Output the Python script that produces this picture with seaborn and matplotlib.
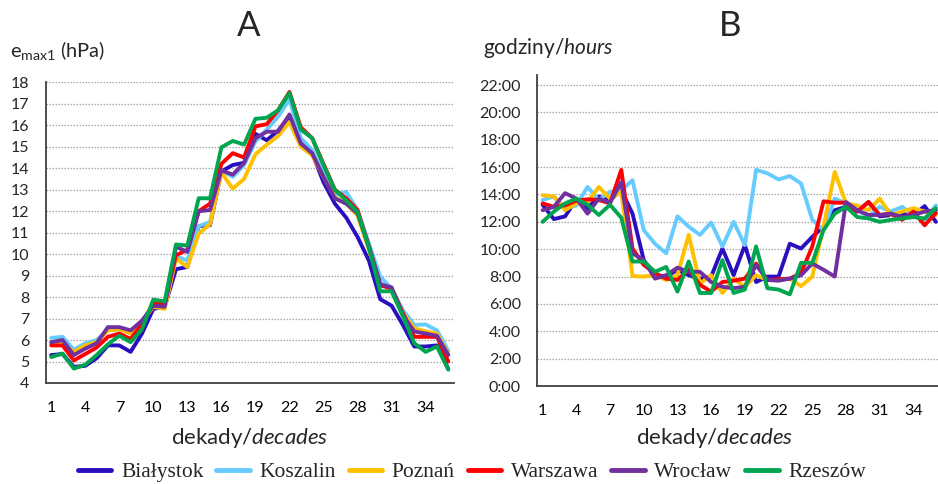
import numpy as np
import pandas as pd
import matplotlib
matplotlib.use("Agg")
import matplotlib.pyplot as plt
from matplotlib.ticker import FixedLocator, FuncFormatter
import seaborn as sns

decades = list(range(1, 37))
stations = ["Białystok", "Koszalin", "Poznań", "Warszawa", "Wrocław", "Rzeszów"]
colors = ["#2A0FC0", "#66CCFF", "#FFC000", "#FF0000", "#7030A0", "#00A550"]

# Panel A: e_max1 (hPa)
emax_bialystok = [5.3, 5.35, 4.75, 4.8, 5.15, 5.75, 5.75, 5.45, 6.3, 7.45, 7.55, 9.3, 9.4, 11.3, 11.35, 13.85, 14.15, 14.25,
                  15.6, 15.3, 15.75, 16.4, 15.3, 14.7, 13.35, 12.35, 11.7, 10.8, 9.7, 7.9, 7.6, 6.7, 5.7, 5.7, 5.75, 4.65]
emax_koszalin = [6.1, 6.15, 5.55, 5.85, 6.0, 6.45, 6.5, 6.35, 6.9, 7.6, 7.5, 9.9, 9.7, 11.3, 11.5, 13.9, 13.6, 14.15,
                 15.25, 15.8, 16.4, 17.2, 15.4, 14.85, 13.75, 12.75, 12.9, 12.05, 10.5, 8.95, 8.4, 7.4, 6.7, 6.73, 6.45, 5.5]
emax_poznan = [5.85, 5.85, 5.45, 5.75, 5.9, 6.45, 6.5, 6.3, 6.85, 7.55, 7.45, 9.8, 9.4, 10.95, 11.4, 13.8, 13.05, 13.5,
               14.65, 15.1, 15.5, 16.15, 15.0, 14.6, 13.6, 12.65, 12.35, 11.8, 10.2, 8.6, 8.4, 7.25, 6.55, 6.4, 6.3, 5.35]
emax_warszawa = [5.75, 5.75, 5.05, 5.35, 5.65, 6.15, 6.3, 6.05, 6.75, 7.7, 7.67, 9.95, 10.2, 12.0, 12.35, 14.2, 14.7, 14.5,
                 15.95, 16.05, 16.7, 17.55, 15.9, 15.4, 14.2, 13.0, 12.6, 12.05, 10.35, 8.55, 8.4, 7.25, 6.15, 6.15, 6.15, 5.0]
emax_wroclaw = [5.9, 6.0, 5.3, 5.6, 5.85, 6.6, 6.6, 6.45, 6.9, 7.6, 7.55, 10.35, 10.1, 12.0, 12.05, 13.9, 13.7, 14.25,
                15.4, 15.7, 15.7, 16.5, 15.15, 14.7, 13.6, 12.6, 12.35, 11.9, 10.35, 8.6, 8.45, 7.15, 6.4, 6.3, 6.2, 5.3]
emax_rzeszow = [5.21, 5.37, 4.67, 4.85, 5.3, 5.8, 6.2, 5.9, 6.5, 7.88, 7.8, 10.45, 10.4, 12.6, 12.6, 14.97, 15.27, 15.1,
                16.3, 16.35, 16.7, 17.5, 15.8, 15.4, 14.15, 13.0, 12.5, 11.97, 10.3, 8.27, 8.27, 7.1, 5.85, 5.45, 5.7, 4.62]

# Panel B: time (hours)
hour_bialystok = [13.25, 12.2, 12.4, 13.65, 13.0, 13.85, 13.6, 14.3, 12.6, 9.2, 8.1, 8.0, 8.5, 8.1, 7.85, 8.0, 10.05, 8.1,
                  10.3, 7.6, 8.0, 8.0, 10.4, 10.05, 10.9, 11.65, 12.85, 13.1, 12.75, 13.45, 12.4, 12.5, 12.6, 12.5, 13.15, 12.0]
hour_koszalin = [13.6, 13.85, 13.0, 13.2, 14.55, 13.6, 14.2, 14.3, 15.05, 11.4, 10.4, 9.7, 12.4, 11.65, 11.05, 11.95, 10.2, 12.0,
                 10.3, 15.8, 15.55, 15.1, 15.35, 14.8, 12.15, 11.4, 13.7, 13.35, 12.85, 12.4, 13.1, 12.75, 13.1, 12.4, 12.15, 13.2]
hour_poznan = [13.95, 13.85, 12.85, 13.35, 13.45, 14.55, 13.7, 14.2, 8.04, 8.0, 8.1, 7.75, 8.1, 11.05, 7.5, 8.1, 6.8, 7.85,
               7.25, 8.1, 7.75, 7.75, 7.85, 7.3, 8.0, 11.65, 15.65, 13.35, 13.2, 12.85, 13.7, 12.5, 12.75, 13.0, 12.75, 12.5]
hour_warszawa = [13.35, 13.1, 13.2, 13.55, 13.65, 13.6, 13.35, 15.8, 10.05, 8.85, 8.25, 7.85, 7.75, 8.5, 7.4, 6.9, 7.6, 7.7,
                 7.85, 8.95, 7.75, 7.8, 7.85, 8.25, 10.2, 13.5, 13.4, 13.4, 12.75, 13.45, 12.5, 12.6, 12.15, 12.75, 11.75, 12.65]
hour_wroclaw = [12.85, 13.1, 14.1, 13.7, 12.6, 13.7, 13.4, 14.9, 9.7, 9.2, 7.85, 8.1, 8.65, 8.35, 8.35, 7.6, 7.25, 7.15,
                7.25, 8.85, 7.75, 7.7, 7.85, 8.1, 8.95, 8.5, 8.0, 13.45, 12.85, 12.5, 12.5, 12.6, 12.35, 12.5, 12.75, 12.85]
hour_rzeszow = [12.0, 12.75, 13.35, 13.7, 13.25, 12.5, 13.25, 12.3, 9.1, 9.1, 8.35, 8.7, 6.9, 9.1, 6.8, 6.8, 9.2, 6.8,
                7.05, 10.2, 7.15, 7.05, 6.7, 9.0, 9.0, 11.4, 12.6, 13.1, 12.35, 12.25, 12.0, 12.15, 12.25, 12.35, 12.25, 13.0]

emax_all = [emax_bialystok, emax_koszalin, emax_poznan, emax_warszawa, emax_wroclaw, emax_rzeszow]
hour_all = [hour_bialystok, hour_koszalin, hour_poznan, hour_warszawa, hour_wroclaw, hour_rzeszow]

rows_a, rows_b = [], []
for st, ea, hb in zip(stations, emax_all, hour_all):
    for d, v1, v2 in zip(decades, ea, hb):
        rows_a.append({"decade": d, "station": st, "value": v1})
        rows_b.append({"decade": d, "station": st, "value": v2})
df_a = pd.DataFrame(rows_a)
df_b = pd.DataFrame(rows_b)

sns.set_style("white")
plt.rcParams["font.family"] = ["Lato", "DejaVu Sans"]
plt.rcParams["mathtext.fontset"] = "custom"
plt.rcParams["mathtext.rm"] = "Lato"
plt.rcParams["mathtext.it"] = "Lato:italic"

fig = plt.figure(figsize=(9.38, 4.84), dpi=100)
W, H = 938, 484

def px_axes(l, r, t, b):
    return [l / W, 1 - b / H, (r - l) / W, (b - t) / H]

axA = fig.add_axes(px_axes(45.5, 454, 82.3, 383))
axB = fig.add_axes(px_axes(537, 941.5, 74.8, 386))

pal = dict(zip(stations, colors))
sns.lineplot(data=df_a, x="decade", y="value", hue="station", hue_order=stations,
             palette=pal, ax=axA, linewidth=2.8, legend=True)
sns.lineplot(data=df_b, x="decade", y="value", hue="station", hue_order=stations,
             palette=pal, ax=axB, linewidth=2.8, legend=False)

handles, labels = axA.get_legend_handles_labels()
axA.get_legend().remove()

label_ticks = [1, 4, 7, 10, 13, 16, 19, 22, 25, 28, 31, 34]
for ax in (axA, axB):
    ax.set_xlim(0.5, 36.5)
    ax.xaxis.set_major_locator(FixedLocator(label_ticks))
    ax.xaxis.set_minor_locator(FixedLocator(np.arange(0.5, 37, 1)))
    ax.tick_params(axis="x", which="major", length=0, labelsize=11.5, pad=13, colors="#000000")
    ax.tick_params(axis="x", which="minor", length=5, width=1.2, color="#404040", direction="out")
    ax.tick_params(axis="y", which="major", length=5, width=1.2, color="#404040", labelsize=11.5,
                   direction="out", pad=6.5)
    ax.set_xlabel("")
    ax.set_ylabel("")
    for s in ("top", "right"):
        ax.spines[s].set_visible(False)
    for s in ("left", "bottom"):
        ax.spines[s].set_color("#404040")
        ax.spines[s].set_linewidth(1.3)
    ax.grid(axis="y", linestyle=(0, (1.2, 1.2)), color="#A6A6A6", linewidth=0.9)
    ax.set_axisbelow(True)

axA.set_ylim(4, 18)
axA.set_yticks(range(4, 19))
axB.set_ylim(0, 22.75)
axB.set_yticks(range(0, 23, 2))
axB.yaxis.set_major_formatter(FuncFormatter(lambda v, p: f"{int(round(v))}:00"))

fig.text(249 / W, 1 - 25.5 / H, "A", ha="center", va="center", fontsize=25)
fig.text(730 / W, 1 - 25.5 / H, "B", ha="center", va="center", fontsize=25)
fig.text(10 / W, 1 - 50 / H, r"e$_{\rm max1}$ (hPa)", ha="left", va="center", fontsize=14.5)
fig.text(483 / W, 1 - 48 / H, r"godziny/$\it{hours}$", ha="left", va="center", fontsize=15)
fig.text(250 / W, 1 - 438 / H, r"dekady/$\it{decades}$", ha="center", va="center", fontsize=16)
fig.text(715 / W, 1 - 438 / H, r"dekady/$\it{decades}$", ha="center", va="center", fontsize=16)

for h in handles:
    h.set_linewidth(3.5)
fig.legend(handles, labels, loc="center", bbox_to_anchor=(472 / W, 1 - 472 / H), ncol=6,
           frameon=False, prop={"family": "Liberation Serif", "size": 15.5},
           handlelength=1.55, handletextpad=0.45, columnspacing=0.6)

fig.savefig("out.png", dpi=100)
